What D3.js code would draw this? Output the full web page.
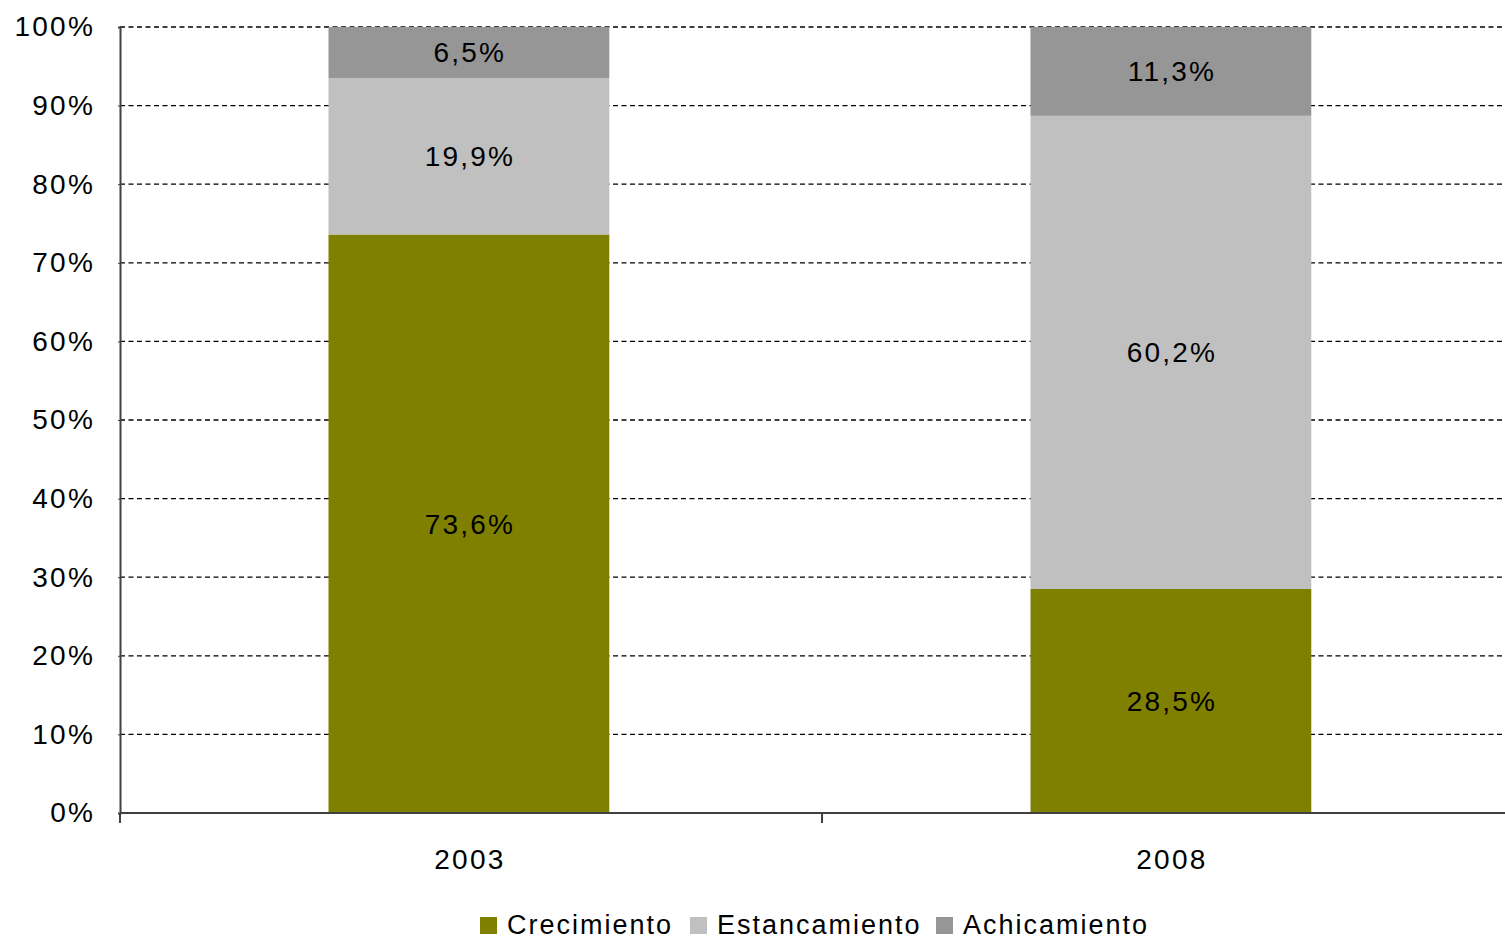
<!DOCTYPE html>
<html>
<head>
<meta charset="utf-8">
<script src="https://cdn.jsdelivr.net/npm/d3@7"></script>
<style>
  body { margin: 0; background: #fff; }
  text { font-family: "Liberation Sans", Arial, sans-serif; fill: #000; }
</style>
</head>
<body>
<svg id="chart" width="1505" height="940"></svg>
<script>
// chart values
const years = ["2003", "2008"];
const seriesNames = ["Crecimiento", "Estancamiento", "Achicamiento"];
const seriesColors = ["#808000", "#c0c0c0", "#969696"];
const crecimiento = [73.6, 28.5];
const estancamiento = [19.9, 60.2];
const achicamiento = [6.5, 11.3];
const yTicks = [0, 10, 20, 30, 40, 50, 60, 70, 80, 90, 100];

const svg = d3.select("#chart");
const plotLeft = 120, plotTop = 27, plotBottom = 813;
const plotRight = 1524; // plot area runs past the window edge

const x = d3.scaleBand().domain(years).range([plotLeft, plotRight]).padding(0);
const y = d3.scaleLinear().domain([0, 100]).range([plotBottom, plotTop]);
const barFrac = 0.4;
const barOffset = 0.297;

// grid
svg.append("g")
  .selectAll("line")
  .data(yTicks.filter((d) => d > 0))
  .join("line")
  .attr("x1", plotLeft)
  .attr("x2", plotRight)
  .attr("y1", (d) => y(d))
  .attr("y2", (d) => y(d))
  .attr("stroke", "#000")
  .attr("stroke-width", 1.3)
  .attr("stroke-dasharray", "5,3.5");

// stacked bars
const rows = years.map((yr, i) => ({
  year: yr,
  Crecimiento: crecimiento[i],
  Estancamiento: estancamiento[i],
  Achicamiento: achicamiento[i]
}));
const stacked = d3.stack().keys(seriesNames)(rows);

const fmt = (v) => d3.format(".1f")(v).replace(".", ",") + "%";
const barX = (yr) => x(yr) + x.bandwidth() * barOffset;
const barW = x.bandwidth() * barFrac;

stacked.forEach((layer, li) => {
  const g = svg.append("g");
  g.selectAll("rect")
    .data(layer)
    .join("rect")
    .attr("x", (d) => barX(d.data.year))
    .attr("width", barW)
    .attr("y", (d) => y(d[1]))
    .attr("height", (d) => y(d[0]) - y(d[1]))
    .attr("fill", seriesColors[li]);
  g.selectAll("text")
    .data(layer)
    .join("text")
    .attr("x", (d) => barX(d.data.year) + barW / 2 + 1)
    .attr("y", (d) => y((d[0] + d[1]) / 2))
    .attr("dy", "0.35em")
    .attr("text-anchor", "middle")
    .attr("font-size", 28)
    .attr("letter-spacing", "2.2px")
    .text((d) => fmt(d[1] - d[0]));
});

// y axis
const yAxis = svg.append("g")
  .attr("transform", "translate(" + plotLeft + ",0)")
  .call(d3.axisLeft(y).tickValues(yTicks).tickSize(2).tickFormat((d) => d + "%"));
yAxis.select(".domain").attr("stroke", "#404040").attr("stroke-width", 2);
yAxis.selectAll(".tick line").attr("stroke", "#404040");
yAxis.selectAll(".tick text")
  .attr("x", -25)
  .attr("font-size", 28)
  .attr("letter-spacing", "2.2px")
  .attr("font-family", "Liberation Sans, Arial, sans-serif")
  .attr("fill", "#000");

// x axis with ticks between categories
const xg = svg.append("g");
xg.append("line")
  .attr("x1", plotLeft).attr("x2", plotRight)
  .attr("y1", plotBottom).attr("y2", plotBottom)
  .attr("stroke", "#404040").attr("stroke-width", 2);
const bounds = years.map((yr) => x(yr)).concat([x(years[years.length - 1]) + x.bandwidth()]);
xg.selectAll(".xt")
  .data(bounds)
  .join("line")
  .attr("class", "xt")
  .attr("x1", (d) => d).attr("x2", (d) => d)
  .attr("y1", plotBottom).attr("y2", plotBottom + 10)
  .attr("stroke", "#404040").attr("stroke-width", 2);
xg.selectAll("text")
  .data(years)
  .join("text")
  .attr("x", (d) => barX(d) + barW / 2 + 1)
  .attr("y", 869)
  .attr("text-anchor", "middle")
  .attr("font-size", 28)
  .attr("letter-spacing", "2.2px")
  .text((d) => d);

// legend
const legendX = [480, 690, 936];
const lg = svg.append("g");
seriesNames.forEach((name, i) => {
  lg.append("rect")
    .attr("x", legendX[i]).attr("y", 917)
    .attr("width", 17).attr("height", 17)
    .attr("fill", seriesColors[i]);
  lg.append("text")
    .attr("x", legendX[i] + 27).attr("y", 934)
    .attr("font-size", 27)
    .attr("letter-spacing", "2px")
    .text(name);
});
</script>
</body>
</html>
